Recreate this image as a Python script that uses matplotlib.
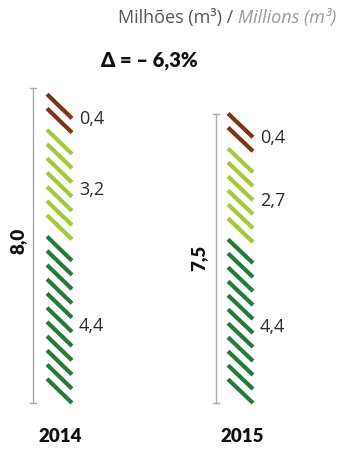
import matplotlib
matplotlib.use("Agg")
import matplotlib.pyplot as plt

years = ["2014", "2015"]
totals = [8.0, 7.5]
# segments listed from the top of each bar down
seg_values = [[0.4, 3.2, 4.4], [0.4, 2.7, 4.4]]
seg_labels = [["0,4", "3,2", "4,4"], ["0,4", "2,7", "4,4"]]
total_labels = ["8,0", "7,5"]
stroke_counts = [[2, 7, 11], [2, 6, 11]]
seg_colors = ["#7b3416", "#a5c93c", "#277a3b"]
delta_label = "\u0394 = \u2013 6,3%"

W, H = 343, 449
PX = 38.6          # pixels per million m3
BASE = 403         # pixel row of the zero line

BOLD = ["Lato", "DejaVu Sans"]
REG = ["Open Sans", "DejaVu Sans"]


def yv(py):
    # pixel row -> value units
    return (BASE - py) / PX


fig = plt.figure(figsize=(W / 100, H / 100), dpi=100)
ax = fig.add_axes([0, 0, 1, 1])
ax.set_xlim(0, W)
ax.set_ylim(yv(H), yv(0))
ax.axis("off")

bar_x = [47, 228]       # left end of the strokes
axis_x = [33, 216]      # thin vertical rule
label_x = [79, 260]
total_x = [18, 199]
year_x = [60, 242]

gap = 1.5   # gap between segments, in stroke spacings
sh = 1.7    # stroke drop, in stroke spacings

for i in range(len(years)):
    tot = totals[i]
    n = stroke_counts[i]
    s = tot / (sum(n) - len(n) + (len(n) - 1) * gap + sh)
    h = sh * s
    top = tot
    for j, cnt in enumerate(n):
        first = top
        for k in range(cnt):
            y0 = top - k * s
            ax.plot([bar_x[i], bar_x[i] + 25], [y0, y0 - h],
                    color=seg_colors[j], lw=3.0, solid_capstyle="butt")
        last = top - (cnt - 1) * s
        mid = (first + last - h) / 2 - 0.15
        ax.text(label_x[i], mid, seg_labels[i][j], fontsize=13, family=REG,
                color="#2a2a2a", va="center", ha="left")
        top = last - gap * s

    # vertical rule with end caps
    rule_top = tot + (0.15 if i == 0 else 0.0)
    ax.plot([axis_x[i], axis_x[i]], [0, rule_top], color="#aaaaaa", lw=1.0)
    for yy in (0, rule_top):
        ax.plot([axis_x[i] - 3, axis_x[i] + 3], [yy, yy], color="#aaaaaa", lw=1.0)

    ax.text(total_x[i], tot / 2 + (0.2 if i == 0 else 0.0), total_labels[i],
            rotation=90, fontsize=13.5, fontweight="heavy", family=BOLD,
            color="#111111", ha="center", va="center")
    ax.text(year_x[i], yv(437), years[i], fontsize=13.5, fontweight="heavy",
            family=BOLD, color="#111111", ha="center", va="center")

ax.text(101, yv(60), delta_label, fontsize=14.5, fontweight="heavy", family=BOLD,
        color="#111111", ha="left", va="center")

# unit caption, Portuguese / English
t_en = ax.text(336, yv(18), "Millions (m\u00b3)", fontsize=13, style="italic",
               family=REG, color="#9a9a9a", ha="right", va="center")
fig.canvas.draw()
bb = t_en.get_window_extent()
x_left = ax.transData.inverted().transform((bb.x0, 0))[0]
ax.text(x_left, yv(18), "Milh\u00f5es (m\u00b3) / ", fontsize=13, family=REG,
        color="#555555", ha="right", va="center")

fig.savefig("out.png", dpi=100)
